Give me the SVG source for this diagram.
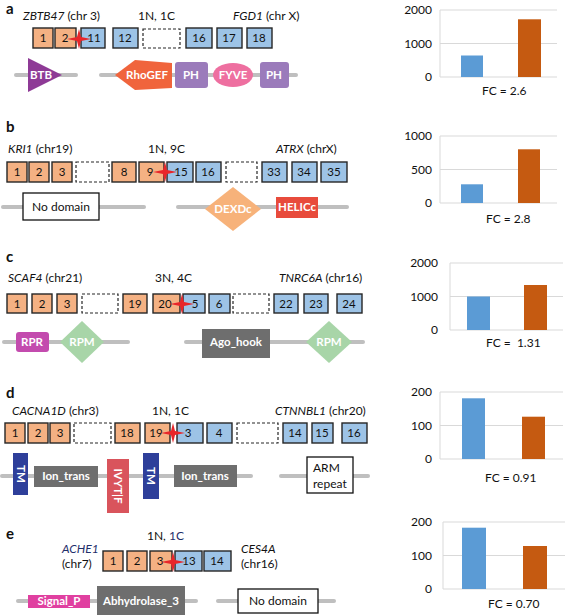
<svg xmlns="http://www.w3.org/2000/svg" width="567" height="616" viewBox="0 0 567 616">
<style>
text{font-family:Lato,"Liberation Sans",sans-serif;fill:#111}
.pl{font-size:15px;font-weight:bold}
.lab{font-size:12px}
.it{font-style:italic}
.ex{font-size:11.5px;text-anchor:middle}
.o{fill:#F4B183;stroke:#262626;stroke-width:1.4}
.b{fill:#9DC3E6;stroke:#262626;stroke-width:1.4}
.d{fill:#fff;stroke:#262626;stroke-width:1.2;stroke-dasharray:3,2}
.ln{stroke:#BFBFBF;stroke-width:4;stroke-linecap:round}
.dt{font-size:11.5px;font-weight:bold;fill:#fff;text-anchor:middle}
.wb{fill:#fff;stroke:#111;stroke-width:1.3}
.wt{font-size:12px;text-anchor:middle}
.gr{stroke:#D9D9D9;stroke-width:1}
.ax{font-size:12px;text-anchor:end}
.fc{font-size:12px}
.bb{fill:#5B9BD5}
.ob{fill:#C55A11}
.gray{fill:#6E6E6E}
.star{fill:#E8262A}
</style>
<defs>
<path id="st" d="M-12,0 L-2,-2 L0,-10 L2,-2 L12,0 L2,2 L0,10 L-2,2 Z"/>
</defs>

<!-- Panel a -->
<g id="panel-a">
<text class="pl" x="6" y="14">a</text>
<text class="lab" x="23" y="20"><tspan class="it">ZBTB47</tspan> (chr 3)</text>
<text class="lab" x="138" y="20">1N, 1C</text>
<text class="lab" x="233" y="20"><tspan class="it">FGD1</tspan> (chr X)</text>
<g id="a-exons">
<rect class="o" x="33" y="28" width="20" height="20"/><text class="ex" x="43" y="42">1</text>
<rect class="o" x="55" y="28" width="21" height="20"/><text class="ex" x="65" y="42">2</text>
<rect class="b" x="81" y="28" width="24" height="20"/><text class="ex" x="94" y="42">11</text>
<rect class="b" x="113" y="28" width="25" height="20"/><text class="ex" x="125" y="42">12</text>
<rect class="d" x="143" y="29" width="37" height="19"/>
<rect class="b" x="186" y="28" width="26" height="20"/><text class="ex" x="199" y="42">16</text>
<rect class="b" x="217" y="28" width="25" height="20"/><text class="ex" x="229" y="42">17</text>
<rect class="b" x="247" y="28" width="25" height="20"/><text class="ex" x="259" y="42">18</text>
<use href="#st" class="star" x="79" y="39"/>
</g>
<g id="a-domains">
<line class="ln" x1="16" y1="75" x2="76" y2="75"/>
<line class="ln" x1="101" y1="75" x2="296" y2="75"/>
<polygon points="28,58 28,92 62,75" fill="#8E3A96"/>
<text class="dt" x="41" y="79">BTB</text>
<polygon points="115,75 135,60 172,63 172,88 135,90" fill="#F0643C"/>
<text class="dt" x="147" y="79">RhoGEF</text>
<rect x="175" y="62" width="33" height="26" rx="3" fill="#9B7BBB"/>
<text class="dt" x="191" y="79">PH</text>
<ellipse cx="233" cy="75" rx="20" ry="12" fill="#EE6FA0"/>
<text class="dt" x="233" y="79">FYVE</text>
<rect x="260" y="62" width="29" height="26" rx="3" fill="#9B7BBB"/>
<text class="dt" x="274" y="79">PH</text>
</g>
<g id="a-chart">
<line class="gr" x1="440" y1="10" x2="557" y2="10"/>
<line class="gr" x1="440" y1="43.5" x2="557" y2="43.5"/>
<line class="gr" x1="440" y1="77" x2="557" y2="77"/>
<line class="gr" x1="440" y1="10" x2="440" y2="77"/>
<text class="ax" x="432" y="14">2000</text>
<text class="ax" x="432" y="48">1000</text>
<text class="ax" x="432" y="81">0</text>
<rect class="bb" x="461" y="55.5" width="22" height="21.5"/>
<rect class="ob" x="518" y="19.3" width="23" height="57.7"/>
<text class="fc" x="482" y="95">FC = 2.6</text>
</g>
</g>

<!-- Panel b -->
<g id="panel-b">
<text class="pl" x="6" y="132">b</text>
<text class="lab" x="8" y="153"><tspan class="it">KRI1</tspan> (chr19)</text>
<text class="lab" x="148" y="153">1N, 9C</text>
<text class="lab" x="276" y="153"><tspan class="it">ATRX</tspan> (chrX)</text>
<g id="b-exons">
<rect class="o" x="7" y="162" width="20" height="20"/><text class="ex" x="17" y="176">1</text>
<rect class="o" x="29" y="162" width="20" height="20"/><text class="ex" x="39" y="176">2</text>
<rect class="o" x="52" y="162" width="20" height="20"/><text class="ex" x="62" y="176">3</text>
<rect class="d" x="76" y="162" width="33" height="20"/>
<rect class="o" x="112" y="162" width="24" height="20"/><text class="ex" x="124" y="176">8</text>
<rect class="o" x="139" y="162" width="25" height="20"/><text class="ex" x="150" y="176">9</text>
<rect class="b" x="167" y="162" width="26" height="20"/><text class="ex" x="181" y="176">15</text>
<rect class="b" x="196" y="162" width="25" height="20"/><text class="ex" x="208" y="176">16</text>
<rect class="d" x="226" y="162" width="31" height="20"/>
<rect class="b" x="262" y="162" width="25" height="20"/><text class="ex" x="274" y="176">33</text>
<rect class="b" x="292" y="162" width="25" height="20"/><text class="ex" x="304" y="176">34</text>
<rect class="b" x="321" y="162" width="26" height="20"/><text class="ex" x="334" y="176">35</text>
<use href="#st" class="star" x="165" y="172"/>
</g>
<g id="b-domains">
<line class="ln" x1="3" y1="207" x2="144" y2="207"/>
<line class="ln" x1="178" y1="207" x2="347" y2="207"/>
<rect class="wb" x="23" y="193" width="76" height="27"/>
<text class="wt" x="61" y="211">No domain</text>
<polygon points="233,187 261,209 233,231 205,209" fill="#F7B27A"/>
<text class="dt" x="233" y="213">DEXDc</text>
<rect x="276" y="197" width="42" height="21" fill="#E84B3C"/>
<text class="dt" x="297" y="211">HELICc</text>
</g>
<g id="b-chart">
<line class="gr" x1="440" y1="136" x2="557" y2="136"/>
<line class="gr" x1="440" y1="169.5" x2="557" y2="169.5"/>
<line class="gr" x1="440" y1="203" x2="557" y2="203"/>
<line class="gr" x1="440" y1="136" x2="440" y2="203"/>
<text class="ax" x="432" y="140">1000</text>
<text class="ax" x="432" y="174">500</text>
<text class="ax" x="432" y="207">0</text>
<rect class="bb" x="461" y="184.3" width="22" height="18.7"/>
<rect class="ob" x="518" y="149.3" width="22" height="53.7"/>
<text class="fc" x="486" y="223">FC = 2.8</text>
</g>
</g>

<!-- Panel c -->
<g id="panel-c">
<text class="pl" x="6" y="262">c</text>
<text class="lab" x="8" y="282"><tspan class="it">SCAF4</tspan> (chr21)</text>
<text class="lab" x="155" y="282">3N, 4C</text>
<text class="lab" x="279" y="282"><tspan class="it">TNRC6A</tspan> (chr16)</text>
<g id="c-exons">
<rect class="o" x="7" y="294" width="20" height="19"/><text class="ex" x="17" y="308">1</text>
<rect class="o" x="32" y="294" width="20" height="19"/><text class="ex" x="42" y="308">2</text>
<rect class="o" x="57" y="294" width="20" height="19"/><text class="ex" x="67" y="308">3</text>
<rect class="d" x="82" y="294" width="36" height="19"/>
<rect class="o" x="123" y="294" width="24" height="19"/><text class="ex" x="135" y="308">19</text>
<rect class="o" x="153" y="294" width="27" height="19"/><text class="ex" x="165" y="308">20</text>
<rect class="b" x="183" y="294" width="22" height="19"/><text class="ex" x="195" y="308">5</text>
<rect class="b" x="209" y="294" width="21" height="19"/><text class="ex" x="219" y="308">6</text>
<rect class="d" x="233" y="294" width="36" height="19"/>
<rect class="b" x="274" y="294" width="24" height="19"/><text class="ex" x="286" y="308">22</text>
<rect class="b" x="304" y="294" width="24" height="19"/><text class="ex" x="316" y="308">23</text>
<rect class="b" x="337" y="294" width="25" height="19"/><text class="ex" x="349" y="308">24</text>
<use href="#st" class="star" x="182" y="304"/>
</g>
<g id="c-domains">
<line class="ln" x1="4" y1="342" x2="128" y2="342"/>
<line class="ln" x1="186" y1="342" x2="363" y2="342"/>
<rect x="16" y="332" width="33" height="20" rx="3" fill="#C34BAE"/>
<text class="dt" x="32" y="346">RPR</text>
<polygon points="82,321 104,342 82,363 60,342" fill="#A8D5A8"/>
<text class="dt" x="82" y="346">RPM</text>
<rect class="gray" x="202" y="329" width="68" height="29"/>
<text class="dt" x="236" y="346">Ago_hook</text>
<polygon points="329,321 352,342 329,363 306,342" fill="#A8D5A8"/>
<text class="dt" x="329" y="346">RPM</text>
</g>
<g id="c-chart">
<line class="gr" x1="450" y1="263" x2="563" y2="263"/>
<line class="gr" x1="450" y1="296.5" x2="563" y2="296.5"/>
<line class="gr" x1="450" y1="330" x2="563" y2="330"/>
<line class="gr" x1="450" y1="263" x2="450" y2="330"/>
<text class="ax" x="438" y="267">2000</text>
<text class="ax" x="438" y="301">1000</text>
<text class="ax" x="438" y="334">0</text>
<rect class="bb" x="467" y="296.5" width="23" height="33.5"/>
<rect class="ob" x="524" y="285" width="23" height="45"/>
<text class="fc" x="486" y="347" xml:space="preserve">FC =  1.31</text>
</g>
</g>

<!-- Panel d -->
<g id="panel-d">
<text class="pl" x="6" y="398">d</text>
<text class="lab" x="12" y="415"><tspan class="it">CACNA1D</tspan> (chr3)</text>
<text class="lab" x="152" y="415">1N, 1C</text>
<text class="lab" x="275" y="415"><tspan class="it">CTNNBL1</tspan> (chr20)</text>
<g id="d-exons">
<rect class="o" x="5" y="423" width="20" height="20"/><text class="ex" x="15" y="437">1</text>
<rect class="o" x="28" y="423" width="20" height="20"/><text class="ex" x="38" y="437">2</text>
<rect class="o" x="50" y="423" width="20" height="20"/><text class="ex" x="60" y="437">3</text>
<rect class="d" x="74" y="423" width="37" height="20"/>
<rect class="o" x="115" y="423" width="25" height="20"/><text class="ex" x="127" y="437">18</text>
<rect class="o" x="145" y="423" width="25" height="20"/><text class="ex" x="156" y="437">19</text>
<rect class="b" x="177" y="423" width="26" height="20"/><text class="ex" x="188" y="437">3</text>
<rect class="b" x="207" y="423" width="25" height="20"/><text class="ex" x="219" y="437">4</text>
<rect class="d" x="237" y="423" width="41" height="20"/>
<rect class="b" x="283" y="423" width="24" height="20"/><text class="ex" x="295" y="437">14</text>
<rect class="b" x="312" y="423" width="21" height="20"/><text class="ex" x="322" y="437">15</text>
<rect class="b" x="342" y="423" width="25" height="20"/><text class="ex" x="354" y="437">16</text>
<use href="#st" class="star" x="173" y="433"/>
</g>
<g id="d-domains">
<line class="ln" x1="2" y1="476" x2="251" y2="476"/>
<line class="ln" x1="281" y1="476" x2="368" y2="476"/>
<rect x="13" y="453" width="15" height="42" fill="#2E3F9A"/>
<text class="dt" transform="translate(16.5,474) rotate(90)">TM</text>
<rect class="gray" x="34" y="466" width="64" height="21"/>
<text class="dt" x="66" y="480">Ion_trans</text>
<rect x="107" y="459" width="22" height="54" fill="#D9545C"/>
<text class="dt" transform="translate(114,486) rotate(90)">IVYT|F</text>
<rect x="143" y="453" width="16" height="46" fill="#2E3F9A"/>
<text class="dt" transform="translate(147,476) rotate(90)">TM</text>
<rect class="gray" x="174" y="465" width="63" height="22"/>
<text class="dt" x="205" y="480">Ion_trans</text>
<rect class="wb" x="307" y="457" width="46" height="36"/>
<text class="lab" x="313" y="472">ARM</text>
<text class="lab" x="313" y="488">repeat</text>
</g>
<g id="d-chart">
<line class="gr" x1="440" y1="392" x2="563" y2="392"/>
<line class="gr" x1="440" y1="425.5" x2="563" y2="425.5"/>
<line class="gr" x1="440" y1="459" x2="563" y2="459"/>
<line class="gr" x1="440" y1="392" x2="440" y2="459"/>
<text class="ax" x="432" y="396">200</text>
<text class="ax" x="432" y="430">100</text>
<text class="ax" x="432" y="463">0</text>
<rect class="bb" x="462" y="398.3" width="23" height="60.7"/>
<rect class="ob" x="522" y="416.7" width="23" height="42.3"/>
<text class="fc" x="485" y="482">FC = 0.91</text>
</g>
</g>

<!-- Panel e -->
<g id="panel-e">
<text class="pl" x="6" y="539">e</text>
<text class="lab" x="147" y="540">1N, <tspan fill="#1F2F6B">1C</tspan></text>
<text class="lab" x="62" y="553"><tspan class="it" fill="#1F2F6B">ACHE1</tspan></text>
<text class="lab" x="62" y="568">(chr7)</text>
<text class="lab it" x="241" y="553">CES4A</text>
<text class="lab" x="241" y="568">(chr16)</text>
<g id="e-exons">
<rect class="o" x="103" y="551" width="20" height="20"/><text class="ex" x="113" y="565">1</text>
<rect class="o" x="127" y="551" width="20" height="20"/><text class="ex" x="137" y="565">2</text>
<rect class="o" x="150" y="551" width="22" height="20"/><text class="ex" x="160" y="565">3</text>
<rect class="b" x="175" y="551" width="27" height="20"/><text class="ex" x="189" y="565">13</text>
<rect class="b" x="204" y="551" width="27" height="20"/><text class="ex" x="217" y="565">14</text>
<use href="#st" class="star" x="173" y="562"/>
</g>
<g id="e-domains">
<line class="ln" x1="18" y1="601" x2="196" y2="601"/>
<line class="ln" x1="218" y1="601" x2="334" y2="601"/>
<rect x="28" y="595" width="62" height="13" fill="#E040A0"/>
<text class="dt" x="59" y="605">Signal_P</text>
<rect class="gray" x="97" y="586" width="88" height="29"/>
<text class="dt" x="141" y="605">Abhydrolase_3</text>
<rect class="wb" x="238" y="589" width="80" height="24"/>
<text class="wt" x="278" y="605">No domain</text>
</g>
<g id="e-chart">
<line class="gr" x1="443" y1="522" x2="565" y2="522"/>
<line class="gr" x1="443" y1="555.5" x2="565" y2="555.5"/>
<line class="gr" x1="443" y1="589" x2="565" y2="589"/>
<line class="gr" x1="443" y1="522" x2="443" y2="589"/>
<text class="ax" x="432" y="526">200</text>
<text class="ax" x="432" y="560">100</text>
<text class="ax" x="432" y="593">0</text>
<rect class="bb" x="462" y="527.7" width="24" height="61.3"/>
<rect class="ob" x="523" y="546" width="24" height="43"/>
<text class="fc" x="488" y="608">FC = 0.70</text>
</g>
</g>
</svg>
